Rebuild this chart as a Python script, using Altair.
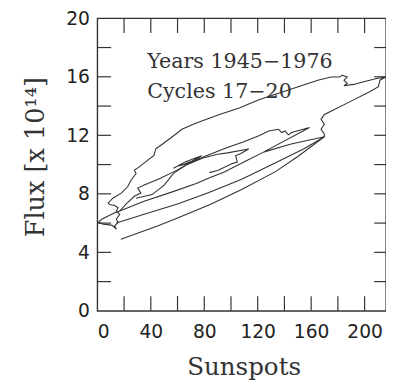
import altair as alt
import pandas as pd

# ---- data (sunspot number vs flux) ----
outer_x = [17.6, 30, 45, 60, 84, 108, 133, 150, 169.9,
           169.9, 167.4, 169.9, 167.4, 169.9, 174.8, 189.5, 204.2, 210.3, 211.5, 216,
           209.1, 199.3, 191.9, 184.6, 187.0, 184.6, 187.0, 183.4, 180.9, 174.8, 165.0,
           150.3, 135.6, 120.9, 106.2, 91.4, 79.2, 71.8, 63.3, 57.1, 47.3, 43.7, 42.4,
           37.5, 31.4, 27.7, 29.0, 25.3, 22.8, 17.9, 11.8, 8.1, 9.3, 13.0, 15.5, 14.2,
           16.7, 14.2, 15.5, 13.0, 14.2, 13.0, 10.6, 4.4, 0.7, 3.2, 8.1, 13.0, 16.7,
           22, 27.7, 32.6, 30.2, 35.1, 47.3, 59.6, 69, 79.2, 96.3, 108.6, 120.9, 128.2,
           135.6, 138.0, 140.5, 142.9, 145.4, 158.8, 124.3, 145, 169.9]
outer_y = [4.9, 5.3, 5.8, 6.35, 7.25, 8.3, 9.5, 10.55, 11.9,
           12.08, 12.41, 12.75, 13.09, 13.42, 13.64, 14.32, 14.99, 15.32, 15.77, 15.99,
           15.88, 15.66, 15.48, 15.39, 15.55, 15.77, 15.99, 16.1, 15.99, 15.99, 15.77,
           15.32, 14.87, 14.43, 13.87, 13.42, 13.02, 12.75, 12.41, 11.97, 11.30, 11.07, 10.62,
           10.29, 9.84, 9.62, 9.39, 8.95, 8.50, 8.05, 7.72, 7.38, 7.27, 7.2, 7.05, 6.82,
           6.6, 6.26, 6.04, 5.81, 5.59, 5.70, 5.86, 5.93, 6.04, 6.26, 6.49, 6.71, 6.82,
           7.35, 7.83, 8.05, 8.39, 8.61, 9.06, 9.62, 10.1, 10.51, 11.14, 11.52, 11.97, 12.30,
           12.41, 12.19, 12.3, 12.03, 12.19, 12.53, 10.85, 11.4, 11.9]

l2_x = [14.2, 35, 60, 84, 108, 133, 155, 169.9]
l2_y = [6.0, 6.6, 7.3, 8.1, 9.0, 10.1, 11.1, 11.9]

l3_x = [16.7, 35, 55, 74, 84, 95, 110, 124.3]
l3_y = [6.82, 7.5, 8.1, 8.7, 9.1, 9.5, 10.2, 10.85]

inner_x = [29, 41, 50, 57, 66, 79, 90, 97.4, 113.2, 107.1, 103.5, 104.7, 101, 90, 83.8]
inner_y = [7.7, 7.95, 8.6, 9.4, 9.95, 10.45, 10.7, 10.8, 11.07, 10.74, 10.62, 10.17, 10.07, 9.6, 9.45]

dense_x = [57, 66, 78, 71, 61, 70, 77]
dense_y = [9.75, 10.2, 10.6, 10.25, 9.9, 10.15, 10.45]

x_ticks = [20, 40, 60, 80, 100, 120, 140, 160, 180, 200]
y_ticks = [2, 4, 6, 8, 10, 12, 14, 16, 18]
x_labels = [0, 40, 80, 120, 160, 200]
y_labels = [0, 4, 8, 12, 16, 20]

note_text = ["Years 1945\u22121976", "Cycles 17\u221220"]
note_x = [37.3, 37.3]
note_y = [16.6, 14.55]

# ---- build tables ----
rows = []
for seg, xs_, ys_ in [("outer", outer_x, outer_y), ("l2", l2_x, l2_y), ("l3", l3_x, l3_y),
                      ("inner", inner_x, inner_y), ("dense", dense_x, dense_y)]:
    for i, (a, b) in enumerate(zip(xs_, ys_)):
        rows.append({"seg": seg, "i": i, "s": a, "f": b})
df = pd.DataFrame(rows)

W, H = 294, 298
xs = alt.Scale(domain=[0, 216], nice=False, zero=False)
ys = alt.Scale(domain=[0, 20], nice=False, zero=False)
INK = "#333333"
XT = "Sunspots"
YT = "Flux [x 10\u00b9\u2074]"

ax_x = alt.Axis(
    values=x_labels, ticks=False, domain=False, grid=False,
    labelFont="DejaVu Sans", labelFontSize=19, labelColor="#222", labelPadding=12,
    title=XT, titleFont="DejaVu Serif", titleFontSize=25, titleFontWeight="normal",
    titleColor="#333", titleX=W / 2 + 2, titleY=65, titleBaseline="alphabetic")
ax_y = alt.Axis(
    values=y_labels, ticks=False, domain=False, grid=False,
    labelFont="DejaVu Sans", labelFontSize=19, labelColor="#222", labelPadding=8,
    title=YT, titleFont="DejaVu Serif", titleFontSize=26,
    titleFontWeight="normal", titleColor="#333", titleAngle=270, titleX=-63, titleY=141,
    titleAlign="center", titleBaseline="middle")

line = alt.Chart(df).mark_line(color=INK, strokeWidth=1.1, clip=True).encode(
    x=alt.X("s:Q", scale=xs, axis=ax_x, title=XT),
    y=alt.Y("f:Q", scale=ys, axis=ax_y, title=YT),
    detail="seg:N",
    order="i:Q",
)

xt = pd.DataFrame({"t": x_ticks})
yt = pd.DataFrame({"t": y_ticks})

bot = alt.Chart(xt).mark_rule(color=INK, strokeWidth=1.2).encode(
    x=alt.X("t:Q", scale=xs, axis=ax_x, title=XT), y=alt.value(H), y2=alt.value(H - 15))
top = alt.Chart(xt).mark_rule(color=INK, strokeWidth=1.2).encode(
    x=alt.X("t:Q", scale=xs, axis=ax_x, title=XT), y=alt.value(0), y2=alt.value(15))
left = alt.Chart(yt).mark_rule(color=INK, strokeWidth=1.2).encode(
    y=alt.Y("t:Q", scale=ys, axis=ax_y, title=YT), x=alt.value(0), x2=alt.value(14))
right = alt.Chart(yt).mark_rule(color=INK, strokeWidth=1.2).encode(
    y=alt.Y("t:Q", scale=ys, axis=ax_y, title=YT), x=alt.value(W), x2=alt.value(W - 12))

notes = alt.Chart(pd.DataFrame({"nx": note_x, "ny": note_y, "t": note_text})).mark_text(
    align="left", baseline="alphabetic", font="DejaVu Serif", fontSize=21, color="#333"
).encode(
    x=alt.X("nx:Q", scale=xs, axis=ax_x, title=XT),
    y=alt.Y("ny:Q", scale=ys, axis=ax_y, title=YT),
    text="t:N")

chart = alt.layer(line, bot, top, left, right, notes).properties(
    width=W, height=H,
    background="white",
    padding={"left": 91, "top": 7, "right": 0, "bottom": 70},
    autosize=alt.AutoSizeParams(type="none"),
).configure_view(stroke=INK, strokeWidth=1.4)

chart.save("out.html", embed_options={"renderer": "svg", "actions": False})
